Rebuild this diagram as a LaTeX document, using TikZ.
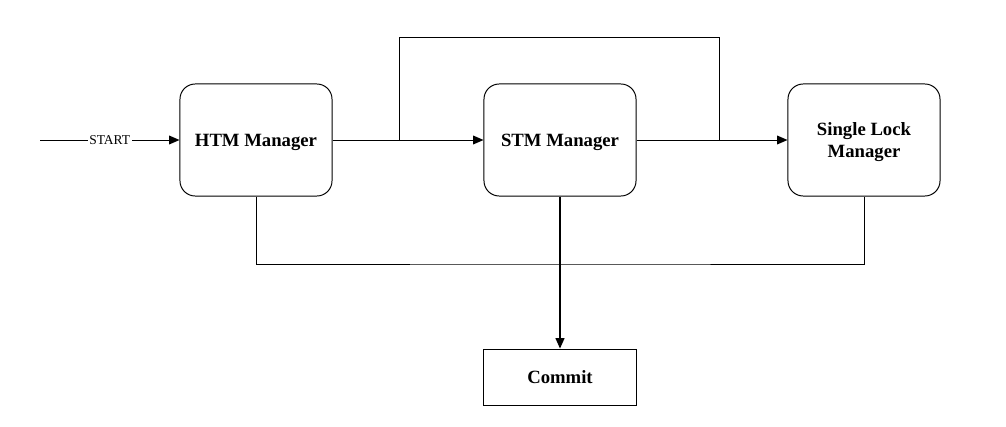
\documentclass[tikz,border=0pt]{standalone}
\usepackage{fontspec}
\setmainfont{Liberation Serif}
\usetikzlibrary{arrows.meta, positioning}

\tikzset{
    manager/.style={draw, rounded corners=0.38cm, minimum width=3.8cm, minimum height=2.8cm,
        align=center, font=\fontsize{13.3}{15.5}\selectfont\bfseries, line width=0.7pt,
        text depth=0pt},
    sink/.style={draw, minimum width=3.8cm, minimum height=1.42cm,
        font=\fontsize{13.3}{15.5}\selectfont\bfseries, line width=0.7pt},
    flow/.style={line width=0.7pt, -{Triangle[length=0.26cm, width=0.22cm]}},
    wire/.style={line width=0.7pt}
}

\begin{document}
\begin{tikzpicture}[x=0.025cm, y=-0.025cm]
    \useasboundingbox (0,0) rectangle (1006,427);

    % Managers
    \node[manager] (htm) at (256,140) {HTM Manager};
    \node[manager] (stm) at (560,140) {STM Manager};
    \node[manager] (slm) at (864,140) {Single Lock\\Manager};
    \node[sink] (commit) at (560,377.5) {Commit};

    % Entry
    \coordinate (start) at (40,140);
    \draw[flow] (start) -- node[fill=white, inner sep=1pt, font=\fontsize{9.6}{11}\selectfont] {START} (htm);

    % Forward path
    \draw[flow] (htm) -- (stm);
    \draw[flow] (stm) -- (slm);

    % Bypass from HTM straight to single lock
    \coordinate (b1) at (399,140);
    \coordinate (b2) at (719,140);
    \coordinate (ta) at (399,37);
    \coordinate (tb) at (719,37);
    \draw[wire] (b1) -- (ta) -- (tb) -- (b2);

    % Commit paths
    \coordinate (mid) at (560,264);
    \draw[wire] (htm.south) |- (mid) -| (slm.south);
    \draw[flow, line width=1.1pt] (stm) -- (commit);
\end{tikzpicture}
\end{document}
